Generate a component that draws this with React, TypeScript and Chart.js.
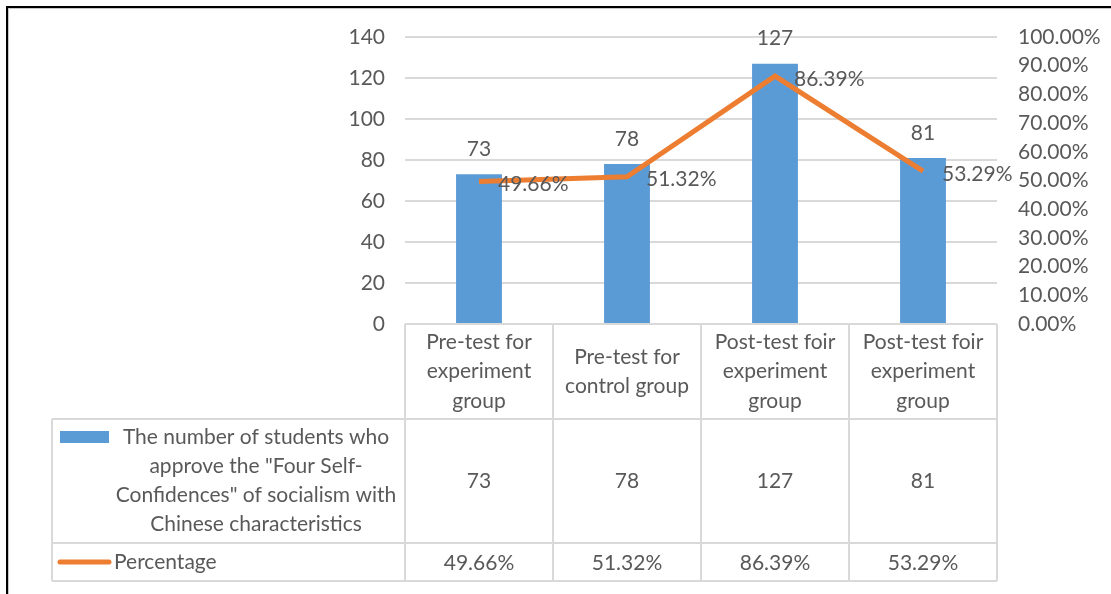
import React, { useEffect, useRef } from "react";
import { Chart, registerables } from "chart.js";

Chart.register(...registerables);

// ---- data ----
const categories: string[][] = [
  ["Pre-test for", "experiment", "group"],
  ["Pre-test for", "control group"],
  ["Post-test foir", "experiment", "group"],
  ["Post-test foir", "experiment", "group"],
];
const studentCounts: number[] = [73, 78, 127, 81];
const percentages: number[] = [49.66, 51.32, 86.39, 53.29];
const barSeriesLines: string[] = [
  "The number of students who",
  "approve the \"Four Self-",
  "Confidences\" of socialism with",
  "Chinese characteristics",
];
const lineSeriesName = "Percentage";
const leftAxisMax = 140;
const leftAxisStep = 20;
const rightAxisMax = 100;
const rightAxisStep = 10;

const BAR_COLOR = "#5B9BD5";
const LINE_COLOR = "#ED7D31";
const TEXT_COLOR = "#595959";
const GRID_COLOR = "#D9D9D9";
const FONT_FAMILY = "Lato, 'Open Sans', sans-serif";
const FONT_SIZE = 21;

const fmtPct = (v: number) => v.toFixed(2) + "%";

const framePlugin = {
  id: "frame",
  beforeDraw(chart: any) {
    const { ctx, width, height } = chart;
    ctx.save();
    ctx.fillStyle = "#ffffff";
    ctx.fillRect(0, 0, width, height);
    ctx.fillStyle = "#000000";
    ctx.fillRect(6, 6, width - 6, 2);
    ctx.fillRect(6, 6, 2, height - 6);
    ctx.fillStyle = "#c8c8c8";
    ctx.fillRect(8, 8, width - 8, 1);
    ctx.fillRect(8, 8, 1, height - 8);
    ctx.restore();
  },
};

const labelsPlugin = {
  id: "valueLabels",
  afterDatasetsDraw(chart: any) {
    const { ctx } = chart;
    ctx.save();
    ctx.font = `${FONT_SIZE}px ${FONT_FAMILY}`;
    ctx.fillStyle = TEXT_COLOR;
    ctx.textBaseline = "middle";
    const barMeta = chart.getDatasetMeta(1);
    ctx.textAlign = "center";
    barMeta.data.forEach((el: any, i: number) => {
      ctx.fillText(String(studentCounts[i]), el.x, el.y - 25);
    });
    const lineMeta = chart.getDatasetMeta(0);
    ctx.textAlign = "left";
    lineMeta.data.forEach((el: any, i: number) => {
      ctx.fillText(fmtPct(percentages[i]), el.x + 19, el.y + 3);
    });
    ctx.restore();
  },
};

const tablePlugin = {
  id: "dataTable",
  afterDraw(chart: any) {
    const { ctx, chartArea } = chart;
    const left = chartArea.left;
    const right = chartArea.right;
    const top0 = chartArea.bottom;
    const n = categories.length;
    const catW = (right - left) / n;
    const headerBottom = top0 + 95;
    const row1Bottom = headerBottom + 124;
    const row2Bottom = row1Bottom + 38;
    const legendLeft = 52;

    ctx.save();
    ctx.strokeStyle = GRID_COLOR;
    ctx.lineWidth = 2;
    ctx.beginPath();
    for (let i = 0; i <= n; i++) {
      const x = Math.round(left + i * catW);
      ctx.moveTo(x, top0);
      ctx.lineTo(x, row2Bottom);
    }
    ctx.moveTo(legendLeft, headerBottom);
    ctx.lineTo(legendLeft, row2Bottom);
    [headerBottom, row1Bottom, row2Bottom].forEach((y) => {
      ctx.moveTo(legendLeft, y);
      ctx.lineTo(right, y);
    });
    ctx.stroke();

    ctx.font = `${FONT_SIZE}px ${FONT_FAMILY}`;
    ctx.fillStyle = TEXT_COLOR;
    ctx.textAlign = "center";
    ctx.textBaseline = "middle";
    const lh = 29.5;
    const xScale = chart.scales.x;
    categories.forEach((lines, i) => {
      const cx = xScale.getPixelForValue(i);
      const cy = (top0 + headerBottom) / 2;
      lines.forEach((t, j) => {
        ctx.fillText(t, cx, cy + (j - (lines.length - 1) / 2) * lh);
      });
      ctx.fillText(String(studentCounts[i]), cx, (headerBottom + row1Bottom) / 2);
      ctx.fillText(fmtPct(percentages[i]), cx, (row1Bottom + row2Bottom) / 2 + 1);
    });

    ctx.fillStyle = BAR_COLOR;
    ctx.fillRect(60, headerBottom + 12, 49, 12);
    ctx.fillStyle = TEXT_COLOR;
    const textCx = 256;
    const r1cy = (headerBottom + row1Bottom) / 2;
    barSeriesLines.forEach((t, j) => {
      ctx.fillText(t, textCx, r1cy + (j - (barSeriesLines.length - 1) / 2) * 29);
    });
    const r2cy = (row1Bottom + row2Bottom) / 2;
    ctx.strokeStyle = LINE_COLOR;
    ctx.lineWidth = 5;
    ctx.lineCap = "round";
    ctx.beginPath();
    ctx.moveTo(60, r2cy);
    ctx.lineTo(109, r2cy);
    ctx.stroke();
    ctx.textAlign = "left";
    ctx.fillText(lineSeriesName, 114, r2cy);
    ctx.restore();
  },
};

export default function App() {
  const canvasRef = useRef<HTMLCanvasElement | null>(null);

  useEffect(() => {
    if (!canvasRef.current) return;
    const chart = new Chart(canvasRef.current, {
      data: {
        labels: categories,
        datasets: [
          {
            type: "line",
            label: lineSeriesName,
            data: percentages,
            yAxisID: "y1",
            borderColor: LINE_COLOR,
            backgroundColor: LINE_COLOR,
            borderWidth: 5,
            pointRadius: 0,
            tension: 0,
            order: 0,
          },
          {
            type: "bar",
            label: barSeriesLines.join(" "),
            data: studentCounts,
            yAxisID: "y",
            backgroundColor: BAR_COLOR,
            categoryPercentage: 1,
            barPercentage: 0.31,
            order: 1,
          },
        ],
      } as any,
      options: {
        responsive: false,
        animation: false,
        devicePixelRatio: 1,
        layout: { padding: { top: 37, left: 0, right: 0, bottom: 0 } },
        plugins: {
          legend: { display: false },
          tooltip: { enabled: false },
        },
        scales: {
          x: {
            grid: { display: false },
            border: { display: false },
            ticks: { display: false },
            afterFit: (s: any) => {
              s.height = 270;
            },
          },
          y: {
            position: "left",
            min: 0,
            max: leftAxisMax,
            grid: { color: GRID_COLOR, lineWidth: 2, drawTicks: false },
            border: { display: false },
            ticks: {
              stepSize: leftAxisStep,
              padding: 20,
              color: TEXT_COLOR,
              font: { family: FONT_FAMILY, size: FONT_SIZE },
            },
            afterFit: (s: any) => {
              s.width = 405;
            },
          },
          y1: {
            position: "right",
            min: 0,
            max: rightAxisMax,
            grid: { display: false, drawTicks: false },
            border: { display: false },
            ticks: {
              stepSize: rightAxisStep,
              padding: 21,
              color: TEXT_COLOR,
              font: { family: FONT_FAMILY, size: FONT_SIZE },
              callback: (v: any) => fmtPct(Number(v)),
            },
            afterFit: (s: any) => {
              s.width = 114;
            },
          },
        },
      } as any,
      plugins: [framePlugin, labelsPlugin, tablePlugin],
    });
    return () => chart.destroy();
  }, []);

  return (
    <div style={{ position: "fixed", left: 0, top: 0, width: 1111, height: 594, background: "#fff" }}>
      <canvas ref={canvasRef} width={1111} height={594} style={{ display: "block" }} />
    </div>
  );
}
